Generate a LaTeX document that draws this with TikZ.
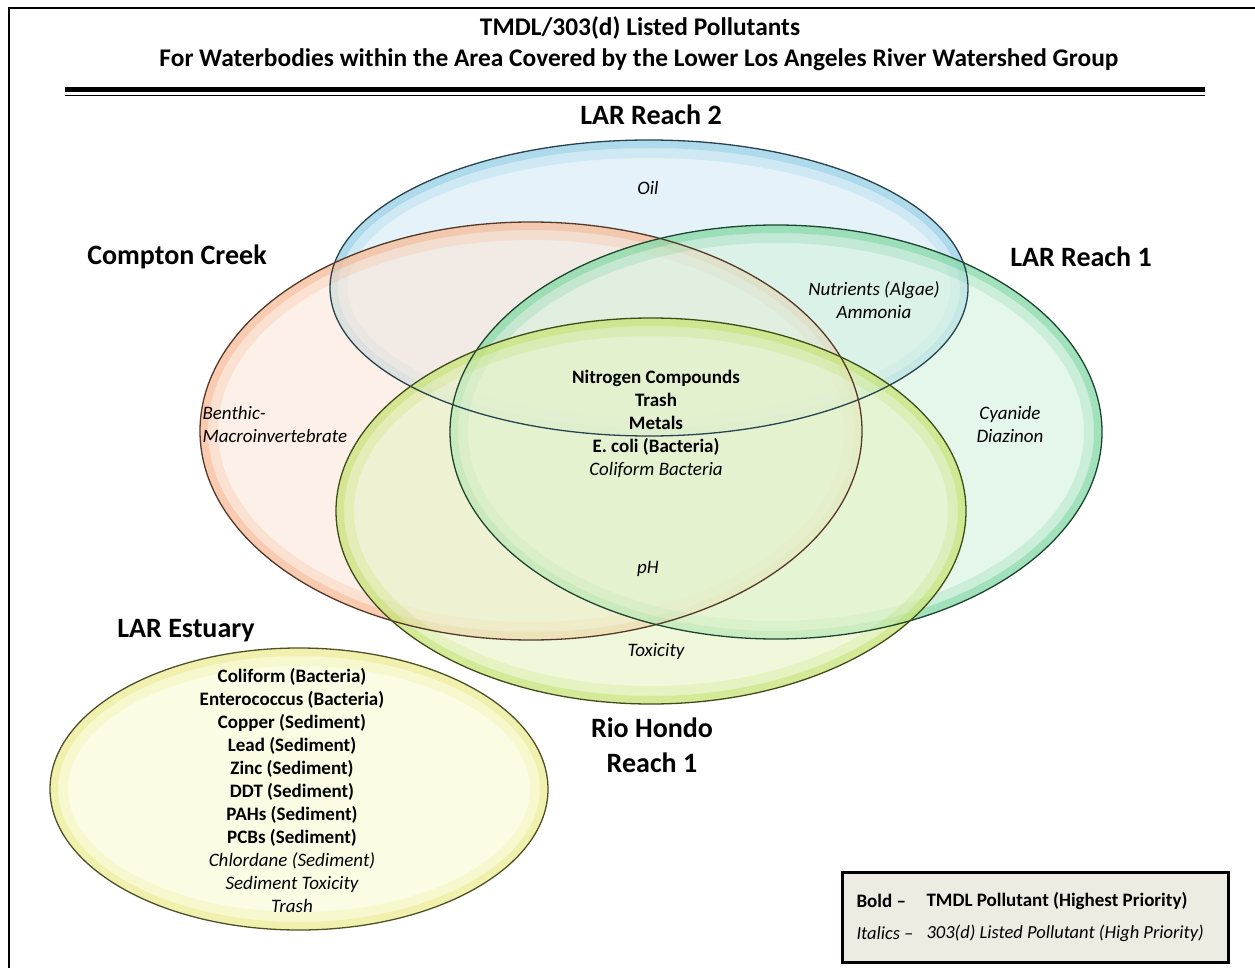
\documentclass[tikz,border=0pt]{standalone}
\usepackage{fontspec}
\setmainfont{Carlito}
\usetikzlibrary{shapes.geometric,positioning}

\definecolor{blueinner}{RGB}{212,234,245}
\definecolor{bluerim}{RGB}{110,190,222}
\definecolor{orangeinner}{RGB}{252,230,216}
\definecolor{orangerim}{RGB}{244,160,110}
\definecolor{greeninner}{RGB}{212,242,222}
\definecolor{greenrim}{RGB}{80,200,130}
\definecolor{limeinner}{RGB}{230,243,196}
\definecolor{limerim}{RGB}{180,218,70}
\definecolor{yellowinner}{RGB}{250,250,212}
\definecolor{yellowrim}{RGB}{228,228,110}
\definecolor{legendbg}{RGB}{238,235,226}

\begin{document}
\begin{tikzpicture}[x=1pt, y=-1pt,
    venn/.style={ellipse, inner sep=0pt, fill opacity=.6},
    rimband/.style={line width=8pt, draw opacity=.45},
    softband/.style={line width=10pt, draw opacity=.18},
    vennline/.style={line width=1.3pt},
    heading/.style={font=\bfseries\fontsize{28}{33}\selectfont, align=center},
    titletext/.style={font=\bfseries\fontsize{25.4}{30}\selectfont},
    itemtext/.style={font=\fontsize{19}{23}\selectfont, align=center},
    legendtext/.style={anchor=west}]
    \useasboundingbox (0,0) rectangle (1255,968);

    % frame and title
    \draw[line width=2.5pt] (9,968) -- (9,8) -- (1255,8);
    \node[titletext] (title) at (640,28) {TMDL/303(d) Listed Pollutants};
    \node[titletext] (subtitle) at (639,60) {For Waterbodies within the Area Covered by the Lower Los Angeles River Watershed Group};
    \draw[line width=5pt] (65,90) -- (1205,90);
    \draw[line width=1.2pt] (65,95.5) -- (1205,95.5);

    % the five waterbodies, each with a glowing rim
    \foreach \name/\cx/\cy/\rx/\ry/\col in {reach2/649/288/319/148/blue,
        compton/531/431/331/209/orange, reach1/776/432/326/207/green,
        riohondo/651/511/315/193/lime, estuary/299/789/249/141/yellow} {
      \node[venn, fill=\col inner, minimum width=2*\rx, minimum height=2*\ry] (\name) at (\cx,\cy) {};
      \draw[rimband, draw=\col rim] (\name.center) ellipse [x radius=\rx-4, y radius=\ry-4];
      \draw[softband, draw=\col rim] (\name.center) ellipse [x radius=\rx-13, y radius=\ry-13];
    }
    \foreach \name/\rx/\ry/\col in {reach2/319/148/blue, compton/331/209/orange,
        reach1/326/207/green, riohondo/315/193/lime, estuary/249/141/yellow}
      \draw[vennline, draw=\col rim!35!black] (\name.center) ellipse [x radius=\rx, y radius=\ry];

    % waterbody names
    \node[heading] (reach2name) at (651,115) {LAR Reach 2};
    \node[heading] (comptonname) at (177,257) {Compton Creek};
    \node[heading] (reach1name) at (1081,257) {LAR Reach 1};
    \node[heading] (estuaryname) at (186,631) {LAR Estuary};
    \node[heading, font=\bfseries\fontsize{28}{35}\selectfont] (riohondoname) at (652,745) {Rio Hondo\\Reach 1};

    % pollutants
    \node[itemtext] (oil) at (648,188) {\itshape Oil};
    \node[itemtext] (nutrients) at (874,300) {\itshape Nutrients (Algae)\\\itshape Ammonia};
    \node[itemtext, align=left, anchor=west] (benthic) at (199,424) {\itshape Benthic-\\\itshape Macroinvertebrate};
    \node[itemtext] (cyanide) at (1010,424) {\itshape Cyanide\\\itshape Diazinon};
    \node[itemtext] (common) at (656,424) {\bfseries Nitrogen Compounds\\\bfseries Trash\\\bfseries Metals\\\bfseries E. coli (Bacteria)\\\itshape Coliform Bacteria};
    \node[itemtext] (ph) at (648,569) {\itshape pH};
    \node[itemtext] (toxicity) at (656,651) {\itshape Toxicity};
    \node[itemtext] (estuarylist) at (292,790.5) {\bfseries Coliform (Bacteria)\\\bfseries Enterococcus (Bacteria)\\
      \bfseries Copper (Sediment)\\\bfseries Lead (Sediment)\\\bfseries Zinc (Sediment)\\\bfseries DDT (Sediment)\\
      \bfseries PAHs (Sediment)\\\bfseries PCBs (Sediment)\\\itshape Chlordane (Sediment)\\\itshape Sediment Toxicity\\\itshape Trash};

    % legend
    \node[draw, line width=3pt, fill=legendbg, minimum width=386, minimum height=90, inner sep=0pt] (legend) at (1035,917) {};
    \node[legendtext, font=\bfseries\fontsize{19}{22}\selectfont] (boldkey) at (853,901) {Bold --};
    \node[legendtext, font=\bfseries\fontsize{19}{22}\selectfont] (boldval) at (923,901) {TMDL Pollutant (Highest Priority)};
    \node[legendtext, font=\itshape\fontsize{18.5}{22}\selectfont] (italkey) at (853,933) {Italics --};
    \node[legendtext, font=\itshape\fontsize{18.5}{22}\selectfont] (italval) at (923,933) {303(d) Listed Pollutant (High Priority)};
\end{tikzpicture}
\end{document}
